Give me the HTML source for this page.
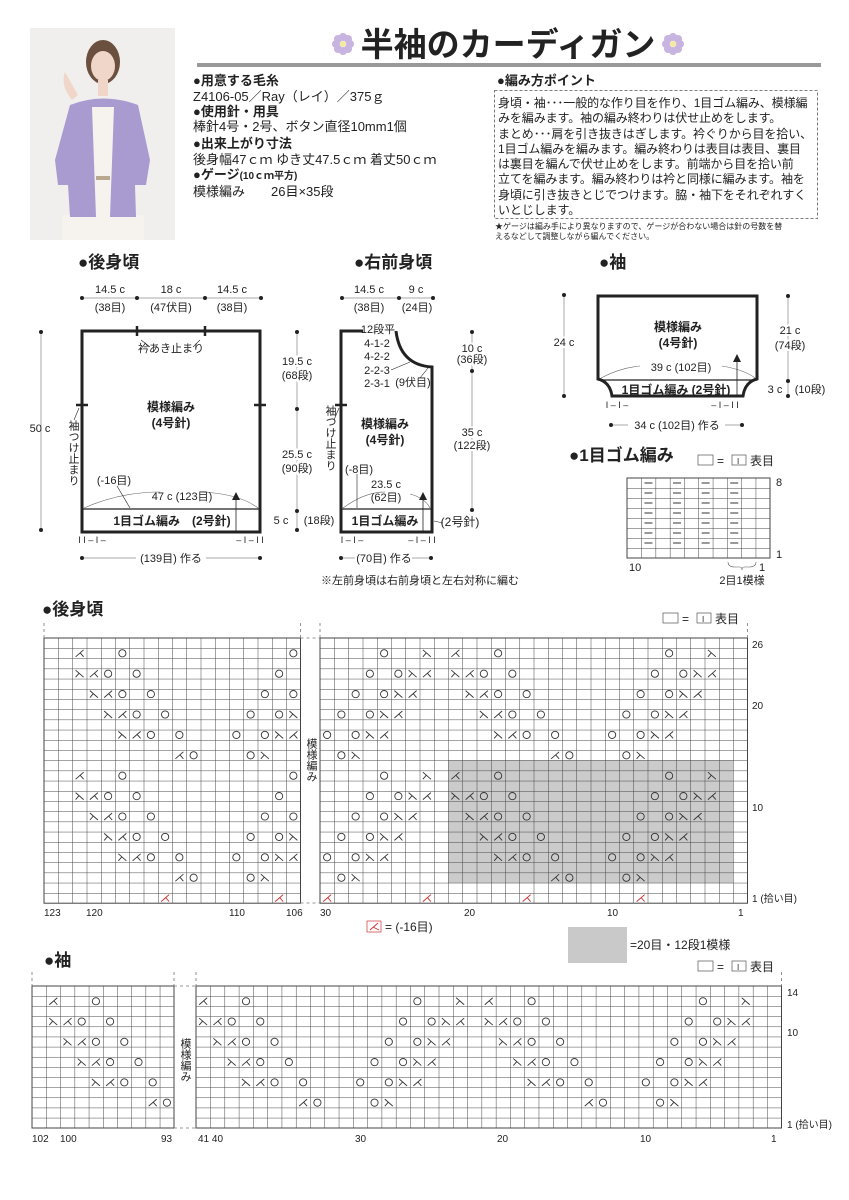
<!DOCTYPE html>
<html><head><meta charset="utf-8">
<style>
html,body{margin:0;padding:0;background:#fff;}
body{width:849px;height:1200px;position:relative;overflow:hidden;font-family:"Liberation Sans","Noto Sans CJK JP",sans-serif;color:#222;}
svg text{font-family:"Liberation Sans","Noto Sans CJK JP",sans-serif;fill:#222;}
.t{position:absolute;white-space:nowrap;font-size:13px;line-height:16px;}
.b{font-weight:bold;}
</style></head><body>
<svg id="s" width="849" height="1200" viewBox="0 0 849 1200" xmlns="http://www.w3.org/2000/svg" style="position:absolute;left:0;top:0">
<defs>
<pattern id="g1" x="44" y="638" width="14.25" height="10.2" patternUnits="userSpaceOnUse"><path d="M0 0H14.25M0 0V10.2" stroke="#444" stroke-width="1" fill="none"/></pattern>
<pattern id="g2" x="320" y="638" width="14.25" height="10.2" patternUnits="userSpaceOnUse"><path d="M0 0H14.25M0 0V10.2" stroke="#444" stroke-width="1" fill="none"/></pattern>
<pattern id="g3" x="32" y="986" width="14.2" height="10.14" patternUnits="userSpaceOnUse"><path d="M0 0H14.2M0 0V10.14" stroke="#444" stroke-width="1" fill="none"/></pattern>
<pattern id="g4" x="196" y="986" width="14.28" height="10.14" patternUnits="userSpaceOnUse"><path d="M0 0H14.28M0 0V10.14" stroke="#444" stroke-width="1" fill="none"/></pattern>
<pattern id="g5" x="627" y="478" width="14.3" height="10" patternUnits="userSpaceOnUse"><path d="M0 0H14.3M0 0V10" stroke="#444" stroke-width="1" fill="none"/></pattern>
</defs>

<!-- photo -->
<rect x="30" y="28" width="145" height="212" fill="#f1efed"/>
<rect x="62" y="215" width="82" height="25" fill="#f6f3ee"/>
<path d="M70 105 Q103 92 138 105 L150 160 L146 185 L135 185 L136 217 L70 217 L68 185 L58 185 L55 160 Z" fill="#a99bd0"/>
<path d="M92 107 L114 107 L110 217 L96 217 Z" fill="#f6f3ee"/>
<rect x="96" y="176" width="14" height="4" fill="#b8a890"/>
<ellipse cx="103" cy="62" rx="17" ry="22" fill="#6b5040"/>
<ellipse cx="103" cy="66" rx="12" ry="15" fill="#f0d6c8"/>
<rect x="98" y="80" width="10" height="16" fill="#f0d6c8"/>
<path d="M65 72 Q60 85 72 100 L78 95 Z" fill="#f0d6c8"/>

<!-- title -->
<g transform="translate(343,44)"><g fill="#c8b4e0"><circle cx="0" cy="-7" r="4"/><circle cx="0" cy="7" r="4"/><circle cx="-7" cy="0" r="4"/><circle cx="7" cy="0" r="4"/><circle cx="-5" cy="-5" r="4"/><circle cx="5" cy="5" r="4"/><circle cx="-5" cy="5" r="4"/><circle cx="5" cy="-5" r="4"/></g><circle r="3" fill="#f4e9a0"/></g>
<g transform="translate(673,44)"><g fill="#c8b4e0"><circle cx="0" cy="-7" r="4"/><circle cx="0" cy="7" r="4"/><circle cx="-7" cy="0" r="4"/><circle cx="7" cy="0" r="4"/><circle cx="-5" cy="-5" r="4"/><circle cx="5" cy="5" r="4"/><circle cx="-5" cy="5" r="4"/><circle cx="5" cy="-5" r="4"/></g><circle r="3" fill="#f4e9a0"/></g>
<text x="508" y="56" font-size="33" text-anchor="middle" font-weight="bold" fill="#111">半袖のカーディガン</text>
<rect x="197" y="63" width="624" height="4" fill="#999"/>

<!-- dashed box -->
<rect x="494.5" y="90.5" width="323" height="128" fill="none" stroke="#555" stroke-width="0.8" stroke-dasharray="3,2"/>

<!-- ========== schematic: back ========== -->
<g stroke="#222" fill="none">
<rect x="82" y="331" width="178" height="201" stroke-width="3"/>
<line x1="82" y1="509" x2="260" y2="509" stroke-width="1.2"/>
<path d="M137 326V336M205 326V336M76 405H88M254 405H266" stroke-width="2.5"/>
<path d="M84 508 Q120 492 160 492M202 492 Q240 494 258 508" stroke-width="0.6" stroke="#666"/>
<path d="M236 532V496" stroke-width="0.8"/><path d="M232 500L236 492L240 500Z" fill="#222" stroke="none"/>
<path d="M117 486L130 508" stroke-width="0.6"/>
<path d="M141 340L150 347M200 340L193 347" stroke-width="0.6"/>
<path d="M79 408L74 420" stroke-width="0.6"/>
<path d="M82 298H260M41 332V530M297 332V530" stroke-width="0.5" stroke="#555"/>
<path d="M82 558H136M206 558H260" stroke-width="0.5" stroke="#555"/>
</g>
<g fill="#222"><circle cx="82" cy="298" r="2"/><circle cx="137" cy="298" r="2"/><circle cx="205" cy="298" r="2"/><circle cx="261" cy="298" r="2"/>
<circle cx="41" cy="332" r="2"/><circle cx="41" cy="530" r="2"/>
<circle cx="297" cy="332" r="2"/><circle cx="297" cy="409" r="2"/><circle cx="297" cy="511" r="2"/><circle cx="297" cy="530" r="2"/>
<circle cx="82" cy="558" r="2"/><circle cx="260" cy="558" r="2"/></g>
<g font-size="11" text-anchor="middle">
<text x="110" y="293">14.5 c</text><text x="110" y="311">(38目)</text>
<text x="171" y="293">18 c</text><text x="171" y="311">(47伏目)</text>
<text x="232" y="293">14.5 c</text><text x="232" y="311">(38目)</text>
<text x="171" y="352">衿あき止まり</text>
<text x="171" y="411" font-weight="bold" font-size="12">模様編み</text><text x="171" y="427" font-weight="bold" font-size="12">(4号針)</text>
<text x="114" y="484">(-16目)</text>
<text x="182" y="500">47 c (123目)</text>
<text x="172" y="525" font-weight="bold" font-size="12">1目ゴム編み　(2号針)</text>
<text x="40" y="432">50 c</text>
<text x="297" y="365" fill="#222" stroke="#fff" stroke-width="4" paint-order="stroke">19.5 c</text><text x="297" y="379" stroke="#fff" stroke-width="4" paint-order="stroke">(68段)</text>
<text x="297" y="458" stroke="#fff" stroke-width="4" paint-order="stroke">25.5 c</text><text x="297" y="472" stroke="#fff" stroke-width="4" paint-order="stroke">(90段)</text>
<text x="281" y="524">5 c</text><text x="319" y="524">(18段)</text>
<text x="171" y="562">(139目) 作る</text>
<text x="92" y="543" font-size="9">I I – I –</text><text x="250" y="543" font-size="9">– I – I I</text>
</g>
<text font-size="11" x="73" y="420" style="writing-mode:vertical-rl">袖つけ止まり</text>

<!-- ========== schematic: right front ========== -->
<g stroke="#222" fill="none">
<path d="M363 331H341V532H432V367Q400 365 396 331" stroke-width="3"/>
<line x1="341" y1="509" x2="432" y2="509" stroke-width="1.2"/>
<path d="M335 405H347" stroke-width="2.5"/>
<path d="M343 508 Q365 492 385 492M410 494 Q425 498 430 508" stroke-width="0.6" stroke="#666"/>
<path d="M423 532V496" stroke-width="0.8"/><path d="M419 500L423 492L427 500Z" fill="#222" stroke="none"/>
<path d="M357 474L357 508M434 521L443 523M391 370L410 362M420 378L428 368" stroke-width="0.6"/>
<path d="M339 408L334 420" stroke-width="0.6"/>
<path d="M342 298H433M472 332V510" stroke-width="0.5" stroke="#555"/>
<path d="M341 558H355M412 558H432" stroke-width="0.5" stroke="#555"/>
</g>
<g fill="#222"><circle cx="342" cy="298" r="2"/><circle cx="399" cy="298" r="2"/><circle cx="433" cy="298" r="2"/>
<circle cx="472" cy="332" r="2"/><circle cx="472" cy="371" r="2"/><circle cx="472" cy="510" r="2"/>
<circle cx="341" cy="558" r="2"/><circle cx="431" cy="558" r="2"/></g>
<g font-size="11" text-anchor="middle">
<text x="369" y="293">14.5 c</text><text x="369" y="311">(38目)</text>
<text x="416" y="293">9 c</text><text x="417" y="311">(24目)</text>
<text x="378" y="333">12段平</text><text x="377" y="347">4-1-2</text><text x="377" y="360">4-2-2</text><text x="377" y="374">2-2-3</text><text x="377" y="387">2-3-1</text>
<text x="413" y="386">(9伏目)</text>
<text x="472" y="352" stroke="#fff" stroke-width="4" paint-order="stroke">10 c</text><text x="472" y="363" stroke="#fff" stroke-width="4" paint-order="stroke">(36段)</text>
<text x="472" y="436" stroke="#fff" stroke-width="4" paint-order="stroke">35 c</text><text x="472" y="449" stroke="#fff" stroke-width="4" paint-order="stroke">(122段)</text>
<text x="385" y="428" font-weight="bold" font-size="12">模様編み</text><text x="385" y="444" font-weight="bold" font-size="12">(4号針)</text>
<text x="359" y="473">(-8目)</text>
<text x="386" y="488">23.5 c</text><text x="386" y="501">(62目)</text>
<text x="385" y="525" font-weight="bold" font-size="12">1目ゴム編み</text>
<text x="460" y="526" font-size="12">(2号針)</text>
<text x="384" y="562">(70目) 作る</text>
<text x="352" y="543" font-size="9">I – I –</text><text x="422" y="543" font-size="9">– I – I I</text>
<text x="420" y="584">※左前身頃は右前身頃と左右対称に編む</text>
</g>
<text font-size="11" x="330" y="405" style="writing-mode:vertical-rl">袖つけ止まり</text>

<!-- ========== schematic: sleeve ========== -->
<g stroke="#222" fill="none">
<path d="M598 379V296H757V379Q745 382 743 396H612Q610 382 598 379Z" stroke-width="3"/>
<line x1="598" y1="380" x2="757" y2="380" stroke-width="1.2"/>
<path d="M601 378 Q620 368 640 366M722 366 Q745 370 755 378" stroke-width="0.6" stroke="#666"/>
<path d="M737 396V358" stroke-width="0.8"/><path d="M733 362L737 354L741 362Z" fill="#222" stroke="none"/>
<path d="M564 295V396M788 296V396" stroke-width="0.5" stroke="#555"/>
<path d="M611 425H628M725 425H743" stroke-width="0.5" stroke="#555"/>
</g>
<g fill="#222"><circle cx="564" cy="295" r="2"/><circle cx="564" cy="396" r="2"/>
<circle cx="788" cy="296" r="2"/><circle cx="788" cy="381" r="2"/><circle cx="788" cy="396" r="2"/>
<circle cx="611" cy="425" r="2"/><circle cx="742" cy="425" r="2"/></g>
<g font-size="11" text-anchor="middle">
<text x="564" y="346" stroke="#fff" stroke-width="4" paint-order="stroke">24 c</text>
<text x="678" y="331" font-weight="bold" font-size="12">模様編み</text><text x="678" y="347" font-weight="bold" font-size="12">(4号針)</text>
<text x="681" y="371">39 c (102目)</text>
<text x="676" y="394" font-weight="bold" font-size="12">1目ゴム編み (2号針)</text>
<text x="790" y="334" stroke="#fff" stroke-width="4" paint-order="stroke">21 c</text><text x="790" y="349" stroke="#fff" stroke-width="4" paint-order="stroke">(74段)</text>
<text x="775" y="393">3 c</text><text x="810" y="393">(10段)</text>
<text x="677" y="429">34 c (102目) 作る</text>
<text x="617" y="408" font-size="9">I – I –</text><text x="725" y="408" font-size="9">– I – I I</text>
</g>

<!-- rib chart -->
<rect x="627" y="478" width="143" height="80" fill="url(#g5)"/>
<rect x="627" y="478" width="143" height="80" fill="none" stroke="#444" stroke-width="1"/>
<g id="rib" stroke="#333" stroke-width="1"></g>
<g font-size="11"><text x="776" y="486">8</text><text x="776" y="558">1</text><text x="629" y="571">10</text><text x="759" y="571">1</text><text x="742" y="584" text-anchor="middle">2目1模様</text></g>
<path d="M728 562 Q728 567 735 567 L740 567 Q742 567 742 570 Q742 567 744 567 L749 567 Q756 567 756 562" stroke="#555" stroke-width="0.6" fill="none"/>

<!-- legends -->
<g stroke="#555" stroke-width="0.7" fill="#fff">
<rect x="698" y="455" width="15" height="10"/><rect x="732" y="455" width="14" height="10"/>
<rect x="663" y="613" width="15" height="10"/><rect x="697" y="613" width="14" height="10"/>
<rect x="698" y="961" width="15" height="10"/><rect x="732" y="961" width="14" height="10"/>
<rect x="367" y="921" width="14" height="11" stroke="#c33"/>
</g>
<g font-size="12"><text x="717" y="465">=</text><text x="737" y="464" font-size="8">I</text><text x="750" y="465">表目</text>
<text x="682" y="623">=</text><text x="702" y="622" font-size="8">I</text><text x="715" y="623">表目</text>
<text x="717" y="971">=</text><text x="737" y="970" font-size="8">I</text><text x="750" y="971">表目</text>
<text x="385" y="931">= (-16目)</text>
<text x="630" y="949">=20目・12段1模様</text></g>
<path d="M370 930L378 923M373 927L379 930" stroke="#c33" stroke-width="0.9" fill="none"/>
<rect x="568" y="927" width="59" height="36" fill="#c9c9c9"/>

<!-- ========== body chart ========== -->
<rect x="448" y="760" width="285" height="123" fill="#cbcbcb"/>
<rect x="44" y="638" width="256.5" height="265.2" fill="url(#g1)"/>
<rect x="320" y="638" width="427.5" height="265.2" fill="url(#g2)"/>
<rect x="44" y="638" width="256.5" height="265.2" fill="none" stroke="#444" stroke-width="1"/>
<rect x="320" y="638" width="427.5" height="265.2" fill="none" stroke="#444" stroke-width="1"/>
<g stroke="#777" stroke-width="0.8" stroke-dasharray="3,3" fill="none">
<path d="M44 623V638M300.5 623V638M320 623V638M747.5 623V638M300.5 638H320M300.5 903H320"/>
</g>
<g id="bs" fill="none" stroke="#333" stroke-width="0.9"></g>
<text x="311" y="738" font-size="11" style="writing-mode:vertical-rl">模様編み</text>
<g font-size="10"><text x="44" y="916">123</text><text x="86" y="916">120</text><text x="229" y="916">110</text><text x="286" y="916">106</text>
<text x="320" y="916">30</text><text x="464" y="916">20</text><text x="607" y="916">10</text><text x="738" y="916">1</text>
<text x="752" y="648">26</text><text x="752" y="709">20</text><text x="752" y="811">10</text><text x="752" y="902">1 (拾い目)</text></g>

<!-- ========== sleeve chart ========== -->
<rect x="32" y="986" width="142" height="142" fill="url(#g3)"/>
<rect x="196" y="986" width="585.5" height="142" fill="url(#g4)"/>
<rect x="32" y="986" width="142" height="142" fill="none" stroke="#444" stroke-width="1"/>
<rect x="196" y="986" width="585.5" height="142" fill="none" stroke="#444" stroke-width="1"/>
<g stroke="#777" stroke-width="0.8" stroke-dasharray="3,3" fill="none">
<path d="M32 972V986M174 972V986M196 972V986M781.5 972V986M174 986H196M174 1128H196"/>
</g>
<g id="ss" fill="none" stroke="#333" stroke-width="0.9"></g>
<text x="185" y="1038" font-size="11" style="writing-mode:vertical-rl">模様編み</text>
<g font-size="10"><text x="32" y="1142">102</text><text x="60" y="1142">100</text><text x="161" y="1142">93</text><text x="198" y="1142">41 40</text>
<text x="355" y="1142">30</text><text x="497" y="1142">20</text><text x="640" y="1142">10</text><text x="771" y="1142">1</text>
<text x="787" y="996">14</text><text x="787" y="1036">10</text><text x="787" y="1128">1 (拾い目)</text></g>

<!-- section titles -->
<g font-size="17" font-weight="bold"><text x="78" y="268">●後身頃</text><text x="354" y="268">●右前身頃</text><text x="599" y="268">●袖</text>
<text x="569" y="461">●1目ゴム編み</text>
<text x="42" y="615">●後身頃</text><text x="44" y="966">●袖</text></g>
</svg>

<div class="t b" style="left:193px;top:73px">●用意する毛糸</div>
<div class="t" style="left:193px;top:89px">Z4106-05／Ray（レイ）／375ｇ</div>
<div class="t b" style="left:193px;top:104px">●使用針・用具</div>
<div class="t" style="left:193px;top:119px">棒針4号・2号、ボタン直径10mm1個</div>
<div class="t b" style="left:193px;top:136px">●出来上がり寸法</div>
<div class="t" style="left:193px;top:152px">後身幅47ｃｍ ゆき丈47.5ｃｍ 着丈50ｃｍ</div>
<div class="t b" style="left:193px;top:167px">●ゲージ<span style="font-size:10px">(10ｃｍ平方)</span></div>
<div class="t" style="left:193px;top:184px">模様編み　　26目×35段</div>
<div class="t b" style="left:497px;top:73px">●編み方ポイント</div>
<div class="t" style="left:498px;top:96px;font-size:12px;line-height:15.3px;letter-spacing:-0.1px;">身頃・袖･･･一般的な作り目を作り、1目ゴム編み、模様編<br>みを編みます。袖の編み終わりは伏せ止めをします。<br>まとめ･･･肩を引き抜きはぎします。衿ぐりから目を拾い、<br>1目ゴム編みを編みます。編み終わりは表目は表目、裏目<br>は裏目を編んで伏せ止めをします。前端から目を拾い前<br>立てを編みます。編み終わりは衿と同様に編みます。袖を<br>身頃に引き抜きとじでつけます。脇・袖下をそれぞれすく<br>いとじします。</div>
<div class="t" style="left:495px;top:222px;font-size:8px;line-height:10px;">★ゲージは編み手により異なりますので、ゲージが合わない場合は針の号数を替<br>えるなどして調整しながら編んでください。</div>

<script>
(function(){
var NS="http://www.w3.org/2000/svg";
var P={11:{1:'L',18:'O',6:'O',3:'R'},
9:{1:'R',0:'L',19:'O',17:'O',7:'O',5:'O',4:'R',3:'L'},
7:{0:'R',19:'L',18:'O',16:'O',8:'O',6:'O',5:'R',4:'L'},
5:{19:'R',18:'L',17:'O',15:'O',9:'O',7:'O',6:'R',5:'L'},
3:{18:'R',17:'L',16:'O',14:'O',10:'O',8:'O',7:'R',6:'L'},
1:{14:'L',13:'O',9:'O',8:'R'}};
function el(g,n,a){var e=document.createElementNS(NS,n);for(var k in a)e.setAttribute(k,a[k]);g.appendChild(e);}
function sym(g,x,y,t,col){
 if(t==='O'){el(g,'circle',{cx:x,cy:y,r:3.6});return;}
 var a=col?{stroke:col}:{};
 if(t==='R'){a.d='M'+(x-4)+' '+(y-3.5)+'L'+(x+4)+' '+(y+3.5)+'M'+(x-4)+' '+(y+3.5)+'L'+(x-0.5)+' '+(y-0.5);}
 else{a.d='M'+(x+4)+' '+(y-3.5)+'L'+(x-4)+' '+(y+3.5)+'M'+(x+4)+' '+(y+3.5)+'L'+(x+0.5)+' '+(y-0.5);}
 el(g,'path',a);
}
var bs=document.getElementById('bs'),w=14.25,h=10.2;
function bx(c){return c>=106?44+(123-c+0.5)*w:747.5-(c-0.5)*w;}
for(var r=3;r<=25;r+=2){var p=((r-3)%12)+1,y=903.2-(r-0.5)*h;
 var cols=[];for(var c=1;c<=30;c++)cols.push(c);for(c=106;c<=123;c++)cols.push(c);
 cols.forEach(function(c){if(c<3||c>121)return;var s=P[p][c%20];if(s)sym(bs,bx(c),y,s);});}
[115,107,30,23,16,8].forEach(function(c){sym(bs,bx(c),903.2-0.5*h,'L','#c33');});
var ss=document.getElementById('ss'),h2=10.14;
function sx(c){return c>=93?32+(102-c+0.5)*14.2:781.5-(c-0.5)*14.28;}
for(r=3;r<=13;r+=2){var p2=r-2,y2=1128-(r-0.5)*h2;
 var cl=[];for(c=1;c<=41;c++)cl.push(c);for(c=93;c<=102;c++)cl.push(c);
 cl.forEach(function(c){if(c<3||c>121)return;var s=P[p2][c%20];if(s)sym(ss,sx(c),y2,s);});}
var rib=document.getElementById('rib');
for(r=2;r<=8;r++){[9,7,5,3].forEach(function(c){var x=770-(c-0.5)*14.3,y=558-(r-0.5)*10;el(rib,'line',{x1:x-4,y1:y,x2:x+4,y2:y});});}
})();
</script>
</body></html>
